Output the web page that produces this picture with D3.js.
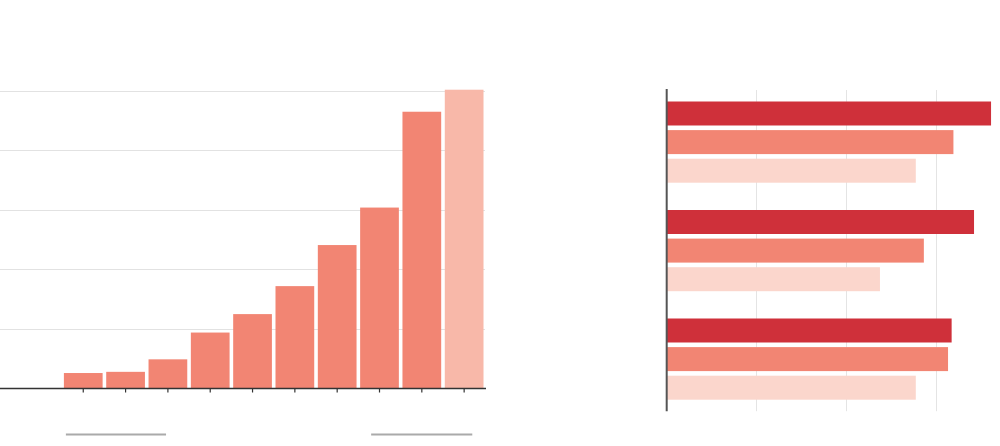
<!DOCTYPE html>
<html>
<head>
<meta charset="utf-8">
<script src="https://cdn.jsdelivr.net/npm/d3@7"></script>
<style>
  html, body { margin: 0; padding: 0; background: #fff; }
  svg { display: block; }
</style>
</head>
<body>
<svg id="chart" width="1000" height="446"></svg>
<script>
// ---- Left chart data (column chart) ----
const colCategories = ["c1","c2","c3","c4","c5","c6","c7","c8","c9","c10"];
const colValues = [26, 28, 49, 94, 125, 172, 241, 304, 465, 502];
const colHighlight = [false,false,false,false,false,false,false,false,false,true];
const colGridTicks = [100, 200, 300, 400, 500];

// ---- Right chart data (grouped horizontal bars) ----
const barGroups = ["g1", "g2", "g3"];
const barSeries = ["s1", "s2", "s3"];
const seriesA = [36.2, 34.3, 31.8];
const seriesB = [32.0, 28.7, 31.4];
const seriesC = [27.8, 23.8, 27.8];
const barGridTicks = [10, 20, 30];

const svg = d3.select("#chart");

// ===== Left chart =====
const L = { x0: 0, x1: 486, y0: 90.9, yBase: 388.5 };
const xL = d3.scaleBand().domain(colCategories).range([62.2, 485.2]).paddingInner(0.085).paddingOuter(0.04);
const yL = d3.scaleLinear().domain([0, 500]).range([L.yBase, L.y0]);

const gL = svg.append("g");
gL.append("g").selectAll("line").data(colGridTicks).join("line")
  .attr("x1", 0).attr("x2", 485)
  .attr("y1", d => Math.round(yL(d)) + 0.5).attr("y2", d => Math.round(yL(d)) + 0.5)
  .attr("stroke", "#e2e2e2").attr("stroke-width", 1);

gL.append("g").selectAll("rect").data(colValues).join("rect")
  .attr("x", (d, i) => xL(colCategories[i]))
  .attr("width", xL.bandwidth())
  .attr("y", d => yL(d))
  .attr("height", d => L.yBase - yL(d))
  .attr("fill", (d, i) => colHighlight[i] ? "#f8b8a9" : "#f28573");

const xAxisL = d3.axisBottom(xL).tickSize(4).tickFormat("");
const axL = gL.append("g").attr("transform", `translate(0,${L.yBase})`).call(xAxisL);
axL.select(".domain").remove();
axL.selectAll(".tick line").attr("stroke", "#333").attr("stroke-width", 1.2);
gL.append("line").attr("x1", 0).attr("x2", 486).attr("y1", L.yBase).attr("y2", L.yBase)
  .attr("stroke", "#333").attr("stroke-width", 1.4);

// grey decorative rules below the axis (anchored on categories)
const ruleSpans = [[colCategories[0], 2, colCategories[2], 17.5], [colCategories[7], 11, colCategories[9], 27.5]];
gL.append("g").selectAll("line").data(ruleSpans).join("line")
  .attr("x1", d => xL(d[0]) + d[1]).attr("x2", d => xL(d[2]) + d[3])
  .attr("y1", 434.5).attr("y2", 434.5)
  .attr("stroke", "#aaaaaa").attr("stroke-width", 2);

// ===== Right chart =====
const R = { x0: 666.7, yTop: 90, yBot: 411.2 };
const xR = d3.scaleLinear().domain([0, 40]).range([R.x0, R.x0 + 358.4]);
const yOuter = d3.scaleBand().domain(barGroups).range([R.yTop, R.yBot]).paddingInner(0.2516).paddingOuter(0.106);
const yInner = d3.scaleBand().domain(barSeries).range([0, yOuter.bandwidth()]).paddingInner(0.161).paddingOuter(0);
const seriesColors = ["#cf303a", "#f28573", "#fbd6cc"];
const seriesData = [seriesA, seriesB, seriesC];

const gR = svg.append("g");
gR.append("g").selectAll("line").data(barGridTicks).join("line")
  .attr("x1", d => Math.round(xR(d)) + 0.5).attr("x2", d => Math.round(xR(d)) + 0.5)
  .attr("y1", R.yTop).attr("y2", R.yBot)
  .attr("stroke", "#e4e4e4").attr("stroke-width", 1);

const rows = [];
barGroups.forEach((g, gi) => barSeries.forEach((s, si) => rows.push({ g, s, si, v: seriesData[si][gi] })));
gR.append("g").selectAll("rect").data(rows).join("rect")
  .attr("x", xR(0))
  .attr("y", d => yOuter(d.g) + yInner(d.s))
  .attr("height", yInner.bandwidth())
  .attr("width", d => xR(d.v) - xR(0))
  .attr("fill", d => seriesColors[d.si]);

gR.append("line").attr("x1", R.x0).attr("x2", R.x0).attr("y1", R.yTop - 1).attr("y2", R.yBot)
  .attr("stroke", "#555").attr("stroke-width", 2);
</script>
</body>
</html>
